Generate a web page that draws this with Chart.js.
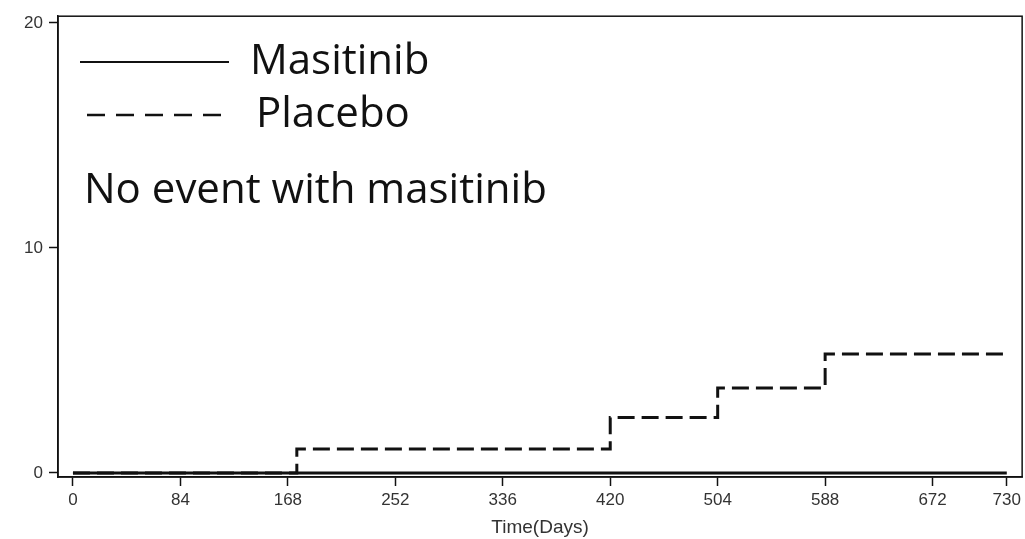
<!DOCTYPE html>
<html lang="en">
<head>
    <meta charset="UTF-8">
    <title>Cumulative events - Masitinib vs Placebo</title>
    <script src="https://cdn.jsdelivr.net/npm/chart.js"></script>
    <style>
        body { margin: 0; background: #ffffff; }
        #wrap { width: 1025px; height: 539px; }
    </style>
</head>
<body>
<div id="wrap"><canvas id="chartCanvas" width="1025" height="539"></canvas></div>
<script>
    // Datos
    const xTicks = [0, 84, 168, 252, 336, 420, 504, 588, 672, 730];
    const yTicks = [0, 10, 20];
    const masitinibDays = [0, 730];
    const masitinibValues = [0, 0];
    const placeboDays = [0, 175, 420, 504, 588, 730];
    const placeboValues = [0, 1.07, 2.46, 3.78, 5.29, 5.29];

    const legendItems = ["Masitinib", "Placebo"];
    const noteText = "No event with masitinib";
    const xTitle = "Time(Days)";

    const toPoints = (xs, ys) => xs.map((x, i) => ({ x: x, y: ys[i] }));

    // Marco del grafico y leyenda dibujada dentro del area
    const framePlugin = {
        id: 'framePlugin',
        beforeDraw: (chart) => {
            const ctx = chart.ctx;
            ctx.save();
            ctx.fillStyle = 'white';
            ctx.fillRect(0, 0, chart.width, chart.height);
            ctx.restore();
        },
        afterDraw: (chart) => {
            const ctx = chart.ctx;
            const a = chart.chartArea;
            ctx.save();
            ctx.strokeStyle = '#111';
            ctx.lineWidth = 1.5;
            ctx.strokeRect(a.left, a.top, a.right - a.left, a.bottom - a.top);

            // leyenda
            ctx.strokeStyle = '#111';
            ctx.lineWidth = 2;
            ctx.beginPath();
            ctx.moveTo(80, 62);
            ctx.lineTo(229, 62);
            ctx.stroke();
            ctx.setLineDash([18, 11]);
            ctx.lineWidth = 2.5;
            ctx.beginPath();
            ctx.moveTo(87, 115);
            ctx.lineTo(222, 115);
            ctx.stroke();
            ctx.setLineDash([]);

            ctx.fillStyle = '#111';
            ctx.font = '42px "Open Sans", sans-serif';
            ctx.textBaseline = 'alphabetic';
            ctx.textAlign = 'left';
            ctx.fillText(legendItems[0], 250, 74);
            ctx.fillText(legendItems[1], 256, 127);
            ctx.fillText(noteText, 84, 203);
            ctx.restore();
        }
    };

    const ctx = document.getElementById("chartCanvas").getContext("2d");
    new Chart(ctx, {
        type: "line",
        data: {
            datasets: [
                {
                    label: legendItems[0],
                    data: toPoints(masitinibDays, masitinibValues),
                    borderColor: "#111",
                    borderWidth: 3,
                    pointRadius: 0,
                    fill: false
                },
                {
                    label: legendItems[1],
                    data: toPoints(placeboDays, placeboValues),
                    borderColor: "#111",
                    borderWidth: 3,
                    borderDash: [17, 7],
                    stepped: true,
                    pointRadius: 0,
                    fill: false
                }
            ]
        },
        options: {
            responsive: false,
            animation: false,
            layout: { padding: { top: 15, right: 2, left: 0, bottom: 0 } },
            plugins: {
                legend: { display: false },
                tooltip: { enabled: false }
            },
            scales: {
                x: {
                    type: "linear",
                    min: -11.7,
                    max: 742,
                    afterBuildTicks: (scale) => { scale.ticks = xTicks.map(v => ({ value: v })); },
                    afterFit: (scale) => { scale.height = 62; },
                    grid: {
                        drawOnChartArea: false,
                        drawTicks: true,
                        tickLength: 9,
                        tickColor: "#111",
                        tickWidth: 1.5
                    },
                    border: { color: "#111", width: 1.5 },
                    ticks: {
                        color: "#333",
                        font: { family: "Liberation Sans, Arial, sans-serif", size: 17 },
                        padding: 4,
                        maxRotation: 0,
                        autoSkip: false
                    },
                    title: {
                        display: true,
                        text: xTitle,
                        color: "#333",
                        font: { family: "Liberation Sans, Arial, sans-serif", size: 19 },
                        padding: { top: 0, bottom: 0 }
                    }
                },
                y: {
                    type: "linear",
                    min: -0.18,
                    max: 20.3,
                    afterBuildTicks: (scale) => { scale.ticks = yTicks.map(v => ({ value: v })); },
                    afterFit: (scale) => { scale.width = 58; },
                    grid: {
                        drawOnChartArea: false,
                        drawTicks: true,
                        tickLength: 9,
                        tickColor: "#111",
                        tickWidth: 1.5
                    },
                    border: { color: "#111", width: 1.5 },
                    ticks: {
                        color: "#333",
                        font: { family: "Liberation Sans, Arial, sans-serif", size: 17 },
                        padding: 6
                    }
                }
            }
        },
        plugins: [framePlugin]
    });
</script>
</body>
</html>
